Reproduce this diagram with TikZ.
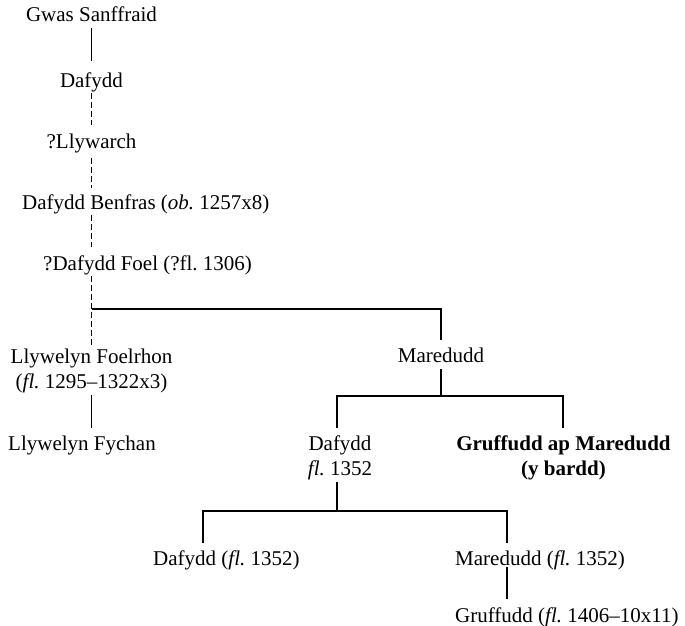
\documentclass[tikz,border=0pt]{standalone}
\usepackage{fontspec}
\setmainfont{Liberation Serif}
\frenchspacing
\begin{document}
\frenchspacing
\begin{tikzpicture}[x=1pt,y=-1pt,
  person/.style={inner sep=0pt, font=\fontsize{21}{24.5}\selectfont, text height=14pt, text depth=5pt},
  multi/.style={inner sep=0pt, font=\fontsize{21}{24.5}\selectfont, align=center},
  solidline/.style={line width=1.9pt},
  dashline/.style={line width=0.9pt, dash pattern=on 6pt off 3pt}]
\useasboundingbox (0,0) rectangle (685,626);
\coordinate (trunk) at (91.5,0);
\coordinate (mx) at (441,0);
\coordinate (dx) at (337,0);
\coordinate (gx) at (563,0);
\coordinate (lx) at (203,0);
\coordinate (rx) at (507,0);
% upper line
\node[person, anchor=base] (gwas) at (91.5,22) {Gwas Sanffraid};
\node[person, anchor=base] (daf1) at (91.5,87) {Dafydd};
\node[person, anchor=base] (llyw) at (91.5,148) {?Llywarch};
\node[person, anchor=base west] (benf) at (22,209) {Dafydd Benfras (\textit{ob.} 1257x8)};
\node[person, anchor=base west] (foel) at (43,270) {?Dafydd Foel (?fl. 1306)};
% second generation
\node[multi, anchor=base] (llf) at (91.5,388) {Llywelyn Foelrhon\\(\textit{fl.} 1295--1322x3)};
\node[person, anchor=base] (mar) at (441,362) {Maredudd};
\node[person, anchor=base west] (llfy) at (8,450) {Llywelyn Fychan};
\node[multi, anchor=base] (daf2) at (340,475) {Dafydd\\\textit{fl.} 1352};
\node[multi, anchor=base, font=\fontsize{21}{24.5}\selectfont\bfseries] (gam) at (563.5,475) {Gruffudd ap Maredudd\\(y bardd)};
\node[person, anchor=base west] (d3) at (153,565) {Dafydd (\textit{fl.} 1352)};
\node[person, anchor=base west] (m3) at (455,565) {Maredudd (\textit{fl.} 1352)};
\node[person, anchor=base west] (g3) at (455,622) {Gruffudd (\textit{fl.} 1406--10x11)};
\coordinate (bar1) at (91.5,309);
\coordinate (bar2) at (441,396);
\coordinate (bar3) at (337,511);
% connectors
\draw[solidline, shorten <=1pt, shorten >=12pt] (gwas.south -| trunk) -- (daf1.north -| trunk);
\draw[dashline, shorten <=1pt, shorten >=9pt] (daf1.south -| trunk) -- (llyw.north -| trunk);
\draw[dashline, shorten <=5pt, shorten >=7pt] (llyw.south -| trunk) -- (benf.north -| trunk);
\draw[dashline, shorten <=1pt, shorten >=9pt] (benf.south -| trunk) -- (foel.north -| trunk);
\draw[dashline, shorten <=1pt, shorten >=1pt] (foel.south -| trunk) -- (llf.north -| trunk);
\draw[solidline, shorten >=8pt] (bar1) -| (mar.north -| mx);
\draw[solidline, shorten <=2pt, shorten >=8pt] (llf.south -| trunk) -- (llfy.north -| trunk);
\draw[solidline, shorten <=7pt] (mar.base -| mx) -- (bar2);
\draw[solidline, shorten <=8pt, shorten >=8pt] (daf2.north -| dx) |- (bar2) -| (gam.north -| gx);
\draw[solidline, shorten <=2pt] (daf2.south -| dx) -- (bar3);
\draw[solidline, shorten <=8pt, shorten >=8pt] (d3.north -| lx) |- (bar3) -| (m3.north -| rx);
\draw[solidline, shorten <=-3pt, shorten >=9pt] (m3.south -| rx) -- (g3.north -| rx);
\end{tikzpicture}
\end{document}
